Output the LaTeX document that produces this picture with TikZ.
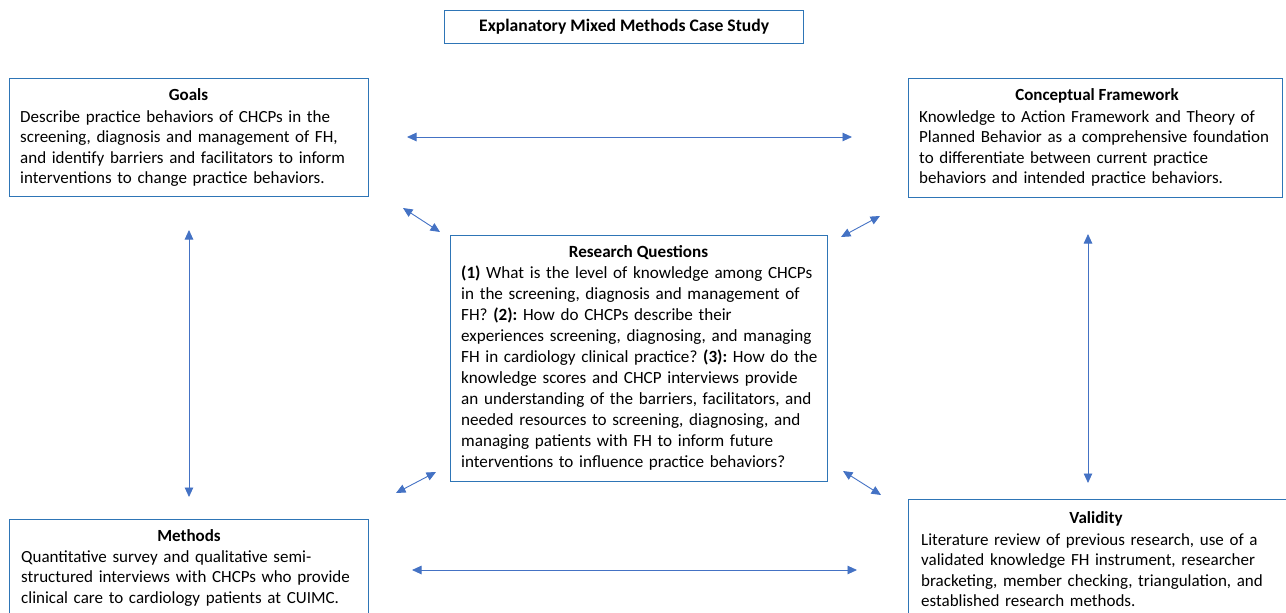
\documentclass[tikz,border=0pt]{standalone}
\usepackage{fontspec}
\setmainfont{Carlito}
\usetikzlibrary{arrows.meta}

\definecolor{boxblue}{RGB}{46,117,182}
\definecolor{linkblue}{RGB}{68,114,196}

\begin{document}
\frenchspacing
\begin{tikzpicture}[x=1pt,y=-1pt,
  frame/.style={draw=boxblue, line width=1.3pt, inner sep=0pt, anchor=north west},
  heading/.style={font=\fontsize{17}{20}\selectfont\bfseries, inner sep=0pt, anchor=base},
  body/.style={font=\fontsize{17}{20.5}\selectfont, align=left, inner sep=0pt, anchor=base west},
  link/.style={draw=linkblue, line width=0.9pt,
    {Triangle[length=9.5pt,width=8.5pt]}-{Triangle[length=9.5pt,width=8.5pt]}}]

\useasboundingbox (0,0) rectangle (1286,613);
\clip (0,0) rectangle (1286,613);

% title banner
\node[frame, minimum width=359pt, minimum height=33pt,
      font=\fontsize{17.6}{20}\selectfont\bfseries] (title) at (444,10)
      {Explanatory Mixed Methods Case Study};

% frames of the five blocks
\node[frame, minimum width=359pt, minimum height=118pt] (goals) at (9,78) {};
\node[frame, minimum width=374pt, minimum height=119pt] (concept) at (908,78) {};
\node[frame, minimum width=377pt, minimum height=246pt] (rq) at (450,235) {};
\node[frame, minimum width=359pt, minimum height=130pt] (methods) at (9,519) {};
\node[frame, minimum width=385pt, minimum height=150pt] (validity) at (908,499) {};

% Goals
\node[heading] (goalsH) at (188.5,100) {Goals};
\node[body, text width=350pt] (goalsB) at (20,122)
  {Describe practice behaviors of CHCPs in the\\
   screening, diagnosis and management of FH,\\
   and identify barriers and facilitators to inform\\
   interventions to change practice behaviors.};

% Conceptual Framework
\node[heading] (conceptH) at (1097,100) {Conceptual Framework};
\node[body, text width=365pt] (conceptB) at (919,122)
  {Knowledge to Action Framework and Theory of\\
   Planned Behavior as a comprehensive foundation\\
   to differentiate between current practice\\
   behaviors and intended practice behaviors.};

% Research Questions
\node[heading, font=\fontsize{17.1}{20}\selectfont\bfseries] (rqH) at (638.5,257) {Research Questions};
\node[body, text width=375pt, font=\fontsize{17.1}{21.1}\selectfont] (rqB) at (461,278)
  {\textbf{(1)} What is the level of knowledge among CHCPs\\
   in the screening, diagnosis and management of\\
   FH? \textbf{(2):} How do CHCPs describe their\\
   experiences screening, diagnosing, and managing\\
   FH in cardiology clinical practice? \textbf{(3):} How do the\\
   knowledge scores and CHCP interviews provide\\
   an understanding of the barriers, facilitators, and\\
   needed resources to screening, diagnosing, and\\
   managing patients with FH to inform future\\
   interventions to influence practice behaviors?};

% Methods
\node[heading] (methodsH) at (189,541) {Methods};
\node[body, text width=350pt] (methodsB) at (21,562)
  {Quantitative survey and qualitative semi-\\
   structured interviews with CHCPs who provide\\
   clinical care to cardiology patients at CUIMC.};

% Validity
\node[heading] (validityH) at (1096,523) {Validity};
\node[body, text width=365pt] (validityB) at (921,545)
  {Literature review of previous research, use of a\\
   validated knowledge FH instrument, researcher\\
   bracketing, member checking, triangulation, and\\
   established research methods.};

% loose ends of the two-headed links
\coordinate (gcA) at (407,137);   \coordinate (gcB) at (852,137);
\coordinate (mvA) at (412,570);   \coordinate (mvB) at (857,570);
\coordinate (gmA) at (189,230);   \coordinate (gmB) at (189,497);
\coordinate (cvA) at (1088,234);  \coordinate (cvB) at (1088,483);
\coordinate (grA) at (403,208);   \coordinate (grB) at (440,232);
\coordinate (crA) at (880,216);   \coordinate (crB) at (841,237);
\coordinate (mrA) at (396,493);   \coordinate (mrB) at (436,472);
\coordinate (vrA) at (843,471);   \coordinate (vrB) at (881,495);

\draw[link] (gcA) -- (gcB);
\draw[link] (mvA) -- (mvB);
\draw[link] (gmA) -- (gmB);
\draw[link] (cvA) -- (cvB);
\draw[link] (grA) -- (grB);
\draw[link] (crA) -- (crB);
\draw[link] (mrA) -- (mrB);
\draw[link] (vrA) -- (vrB);
\end{tikzpicture}
\end{document}
